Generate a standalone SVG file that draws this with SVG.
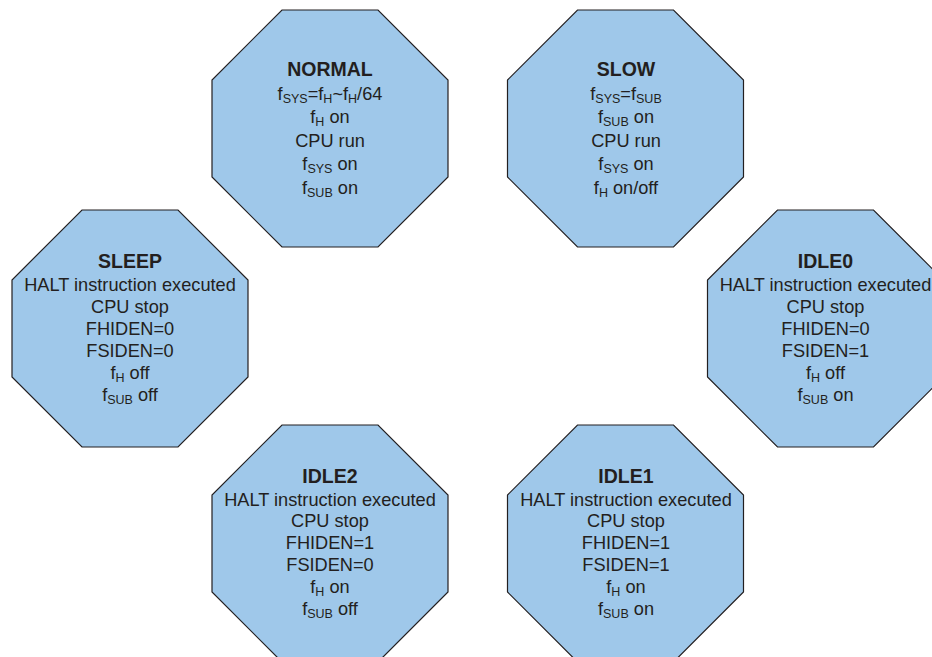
<svg xmlns="http://www.w3.org/2000/svg" xmlns:xlink="http://www.w3.org/1999/xlink" width="932" height="657" viewBox="0 0 932 657">
<style>
.oct{fill:#9fc8ea;stroke:#231f20;stroke-width:1.2}
text{font-family:"Liberation Sans",Arial,sans-serif;font-size:18.2px;fill:#231f20;text-anchor:middle}
.t{font-weight:bold;font-size:19.5px}
.s{font-size:12.5px}
</style>
<defs>
<polygon id="oct" points="70,0 166,0 236,70 236,167 166,237 70,237 0,167 0,70"/>
</defs>
<rect width="932" height="657" fill="#ffffff"/>
<g id="connectors"></g>
<g id="normal">
<use xlink:href="#oct" href="#oct" class="oct" x="212" y="10"/>
<text x="330" y="76" class="t">NORMAL</text>
<text x="330" y="100">f<tspan class="s" dy="3">SYS</tspan><tspan dy="-3">=f</tspan><tspan class="s" dy="3">H</tspan><tspan dy="-3">~f</tspan><tspan class="s" dy="3">H</tspan><tspan dy="-3">/64</tspan></text>
<text x="330" y="123">f<tspan class="s" dy="3">H</tspan><tspan dy="-3"> on</tspan></text>
<text x="330" y="147">CPU run</text>
<text x="330" y="170">f<tspan class="s" dy="3">SYS</tspan><tspan dy="-3"> on</tspan></text>
<text x="330" y="194">f<tspan class="s" dy="3">SUB</tspan><tspan dy="-3"> on</tspan></text>
</g>
<g id="slow">
<use xlink:href="#oct" href="#oct" class="oct" x="507.5" y="10"/>
<text x="626" y="76" class="t">SLOW</text>
<text x="626" y="100">f<tspan class="s" dy="3">SYS</tspan><tspan dy="-3">=f</tspan><tspan class="s" dy="3">SUB</tspan></text>
<text x="626" y="123">f<tspan class="s" dy="3">SUB</tspan><tspan dy="-3"> on</tspan></text>
<text x="626" y="147">CPU run</text>
<text x="626" y="170">f<tspan class="s" dy="3">SYS</tspan><tspan dy="-3"> on</tspan></text>
<text x="626" y="194">f<tspan class="s" dy="3">H</tspan><tspan dy="-3"> on/off</tspan></text>
</g>
<g id="sleep">
<use xlink:href="#oct" href="#oct" class="oct" x="12" y="210"/>
<text x="130" y="268" class="t">SLEEP</text>
<text x="130" y="290.5">HALT instruction executed</text>
<text x="130" y="312.5">CPU stop</text>
<text x="130" y="334.5">FHIDEN=0</text>
<text x="130" y="356.5">FSIDEN=0</text>
<text x="130" y="378.5">f<tspan class="s" dy="3">H</tspan><tspan dy="-3"> off</tspan></text>
<text x="130" y="400.5">f<tspan class="s" dy="3">SUB</tspan><tspan dy="-3"> off</tspan></text>
</g>
<g id="idle0">
<use xlink:href="#oct" href="#oct" class="oct" x="707.5" y="210"/>
<text x="825.5" y="268" class="t">IDLE0</text>
<text x="825.5" y="290.5">HALT instruction executed</text>
<text x="825.5" y="312.5">CPU stop</text>
<text x="825.5" y="334.5">FHIDEN=0</text>
<text x="825.5" y="356.5">FSIDEN=1</text>
<text x="825.5" y="378.5">f<tspan class="s" dy="3">H</tspan><tspan dy="-3"> off</tspan></text>
<text x="825.5" y="400.5">f<tspan class="s" dy="3">SUB</tspan><tspan dy="-3"> on</tspan></text>
</g>
<g id="idle2">
<use xlink:href="#oct" href="#oct" class="oct" x="212" y="425"/>
<text x="330" y="483" class="t">IDLE2</text>
<text x="330" y="505.5">HALT instruction executed</text>
<text x="330" y="527">CPU stop</text>
<text x="330" y="549">FHIDEN=1</text>
<text x="330" y="571">FSIDEN=0</text>
<text x="330" y="593">f<tspan class="s" dy="3">H</tspan><tspan dy="-3"> on</tspan></text>
<text x="330" y="615">f<tspan class="s" dy="3">SUB</tspan><tspan dy="-3"> off</tspan></text>
</g>
<g id="idle1">
<use xlink:href="#oct" href="#oct" class="oct" x="507.5" y="425"/>
<text x="626" y="483" class="t">IDLE1</text>
<text x="626" y="505.5">HALT instruction executed</text>
<text x="626" y="527">CPU stop</text>
<text x="626" y="549">FHIDEN=1</text>
<text x="626" y="571">FSIDEN=1</text>
<text x="626" y="593">f<tspan class="s" dy="3">H</tspan><tspan dy="-3"> on</tspan></text>
<text x="626" y="615">f<tspan class="s" dy="3">SUB</tspan><tspan dy="-3"> on</tspan></text>
</g>
</svg>
